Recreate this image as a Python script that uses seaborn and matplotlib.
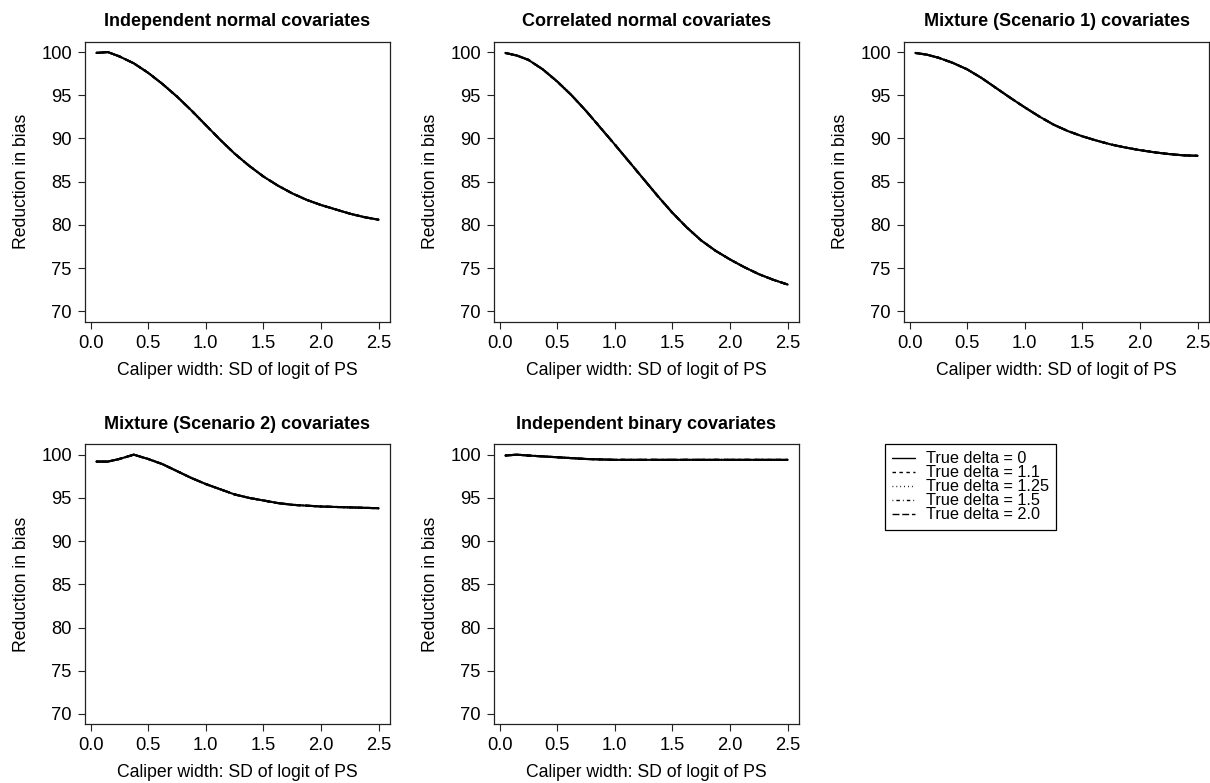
import numpy as np
import pandas as pd
import matplotlib
matplotlib.use("Agg")
import matplotlib.pyplot as plt
from matplotlib.lines import Line2D
import seaborn as sns

# Caliper widths (SD of logit of the propensity score)
caliper = [0.05, 0.15, 0.25, 0.375, 0.5, 0.625, 0.75, 0.875, 1.0, 1.125, 1.25,
           1.375, 1.5, 1.625, 1.75, 1.875, 2.0, 2.125, 2.25, 2.375, 2.5]

# Percent reduction in bias for each covariate scenario
indep_normal = [99.9, 100.0, 99.5, 98.7, 97.6, 96.3, 94.85, 93.25, 91.55, 89.85, 88.25,
                86.85, 85.6, 84.55, 83.65, 82.9, 82.3, 81.8, 81.3, 80.9, 80.6]
corr_normal = [99.9, 99.6, 99.1, 98.0, 96.6, 95.0, 93.2, 91.25, 89.3, 87.3, 85.3,
               83.3, 81.4, 79.7, 78.2, 77.0, 76.0, 75.1, 74.3, 73.65, 73.1]
mixture_1 = [99.9, 99.7, 99.35, 98.75, 98.0, 97.0, 95.85, 94.7, 93.6, 92.55, 91.6,
             90.85, 90.25, 89.75, 89.3, 88.95, 88.65, 88.4, 88.2, 88.05, 88.0]
mixture_2 = [99.2, 99.2, 99.5, 100.0, 99.5, 98.9, 98.1, 97.3, 96.6, 96.0, 95.4,
             95.0, 94.7, 94.4, 94.2, 94.1, 94.0, 93.95, 93.9, 93.85, 93.8]
indep_binary = [99.9, 100.0, 99.9, 99.8, 99.7, 99.6, 99.5, 99.45, 99.4, 99.4, 99.4,
                99.4, 99.4, 99.4, 99.4, 99.4, 99.4, 99.4, 99.4, 99.4, 99.4]

titles = ["Independent normal covariates", "Correlated normal covariates",
          "Mixture (Scenario 1) covariates", "Mixture (Scenario 2) covariates",
          "Independent binary covariates"]
panel_values = [indep_normal, corr_normal, mixture_1, mixture_2, indep_binary]

# True deltas: the curves for the different deltas coincide
deltas = ["0", "1.1", "1.25", "1.5", "2.0"]
delta_labels = [f"True delta = {d}" for d in deltas]
x_ticks = [0.0, 0.5, 1.0, 1.5, 2.0, 2.5]
y_ticks = [70, 75, 80, 85, 90, 95, 100]

dash_map = {"0": "", "1.1": (2.5, 2.5), "1.25": (0.6, 2.2),
            "1.5": (0.6, 2.2, 2.5, 2.2), "2.0": (5.0, 2.0)}

sns.set_theme(style="ticks")
plt.rcParams["font.family"] = ["Liberation Sans", "DejaVu Sans"]
plt.rcParams["text.color"] = "black"
plt.rcParams["axes.labelcolor"] = "black"
plt.rcParams["axes.edgecolor"] = "#222222"
plt.rcParams["xtick.color"] = "#222222"
plt.rcParams["ytick.color"] = "#222222"
plt.rcParams["xtick.labelcolor"] = "black"
plt.rcParams["ytick.labelcolor"] = "black"

W, H = 1210, 783
fig = plt.figure(figsize=(W / 100, H / 100), dpi=100)
fig.patch.set_facecolor("white")

box_w, box_h = 305, 280
origins = [(85, 41.7), (494, 41.7), (904, 41.7), (85, 444.3), (494, 444.3)]

for (left, top), title, vals in zip(origins, titles, panel_values):
    ax = fig.add_axes([left / W, 1 - (top + box_h) / H, box_w / W, box_h / H])
    df = pd.DataFrame({
        "caliper": np.tile(caliper, len(deltas)),
        "reduction": np.tile(vals, len(deltas)),
        "delta": np.repeat(deltas, len(caliper)),
    })
    sns.lineplot(data=df, x="caliper", y="reduction", style="delta",
                 style_order=deltas, dashes=dash_map, color="black",
                 linewidth=1.5, estimator=None, sort=False, legend=False, ax=ax)
    ax.set_xlim(-0.048, 2.598)
    ax.set_ylim(68.8, 101.2)
    ax.set_xticks(x_ticks)
    ax.set_xticklabels([f"{t:.1f}" for t in x_ticks])
    ax.set_yticks(y_ticks)
    ax.set_yticklabels([str(t) for t in y_ticks])
    ax.tick_params(axis="both", direction="out", length=5, width=0.8,
                   labelsize=13.2, pad=4.5)
    ax.set_xlabel("Caliper width: SD of logit of PS", fontsize=12.7, labelpad=7)
    ax.set_ylabel("Reduction in bias", fontsize=12.7, labelpad=8)
    ax.set_title(title, fontsize=13, fontweight="bold", pad=11)
    for s in ax.spines.values():
        s.set_visible(True)
        s.set_color("#222222")
        s.set_linewidth(0.9)
    ax.set_facecolor("white")

handles = []
for d in deltas:
    h = Line2D([0], [0], color="black", linewidth=1.0)
    if dash_map[d]:
        h.set_dashes(dash_map[d])
    handles.append(h)
leg = fig.legend(handles, delta_labels, loc="upper left",
                 bbox_to_anchor=(885 / W, 1 - 444 / H), borderaxespad=0,
                 fontsize=11.7, frameon=True, fancybox=False, framealpha=1,
                 edgecolor="black", borderpad=0.45, labelspacing=-0.06,
                 handlelength=1.4, handletextpad=0.65, handleheight=0.5)
leg.get_frame().set_linewidth(0.9)

fig.savefig("out.png", dpi=100, facecolor="white")
